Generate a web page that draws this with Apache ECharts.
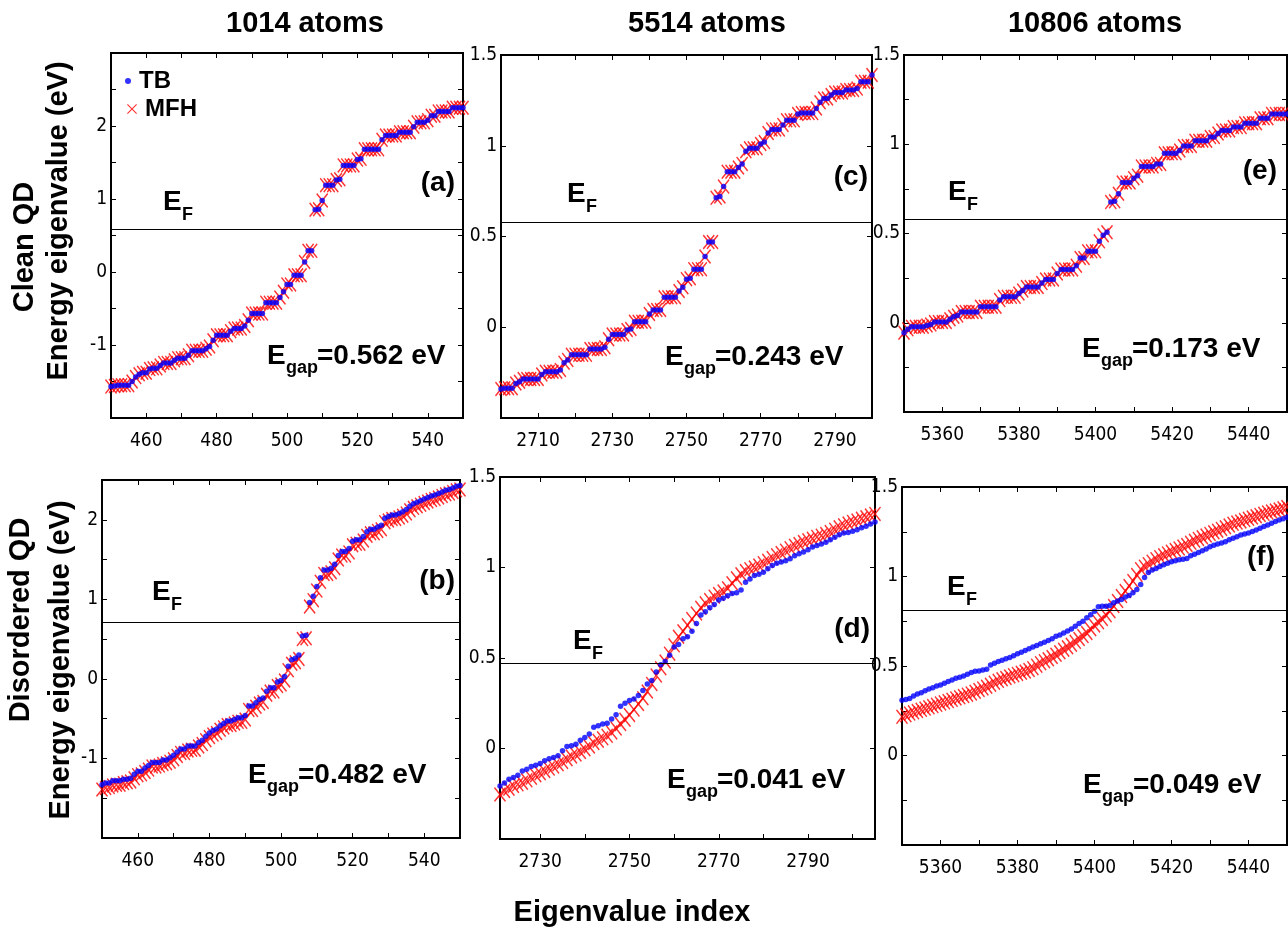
<!DOCTYPE html>
<html>
<head>
<meta charset="utf-8">
<script src="https://cdn.jsdelivr.net/npm/echarts@6/dist/echarts.min.js"></script>
<style>
html,body{margin:0;padding:0;background:#fff;}
#chart{width:1288px;height:928px;}
</style>
</head>
<body>
<div id="chart"></div>
<script>
// ---------- data ----------
const columnTitles = ['1014 atoms', '5514 atoms', '10806 atoms'];
const panelLetters = ['(a)', '(b)', '(c)', '(d)', '(e)', '(f)'];
const gapTexts = ['=0.562 eV', '=0.482 eV', '=0.243 eV', '=0.041 eV', '=0.173 eV', '=0.049 eV'];

// (a) clean, 1014 atoms, index 450..550
const startA = 450;
const tbA = [-1.57,-1.56,-1.55,-1.55,-1.55,-1.55,-1.50,-1.44,-1.40,-1.38,
  -1.38,-1.33,-1.32,-1.32,-1.28,-1.245,-1.245,-1.245,-1.21,-1.18,
  -1.18,-1.18,-1.14,-1.08,-1.08,-1.08,-1.08,-1.05,-1.02,-0.935,
  -0.866,-0.866,-0.866,-0.866,-0.81,-0.775,-0.775,-0.775,-0.74,-0.66,
  -0.57,-0.57,-0.57,-0.57,-0.42,-0.42,-0.42,-0.42,-0.35,-0.27,
  -0.17,-0.17,-0.045,-0.045,-0.045,0.137,0.29,0.29,0.853,0.86,
  0.98,1.19,1.19,1.19,1.26,1.27,1.46,1.46,1.46,1.46,
  1.54,1.55,1.68,1.68,1.68,1.68,1.68,1.81,1.87,1.87,
  1.87,1.87,1.915,1.915,1.915,1.915,1.99,2.05,2.05,2.05,
  2.08,2.14,2.14,2.20,2.20,2.20,2.20,2.25,2.25,2.25,
  2.25];
const mfhA = [-1.57,-1.56,-1.55,-1.55,-1.55,-1.55,-1.50,-1.44,-1.40,-1.38,
  -1.38,-1.33,-1.32,-1.32,-1.28,-1.245,-1.245,-1.245,-1.21,-1.18,
  -1.18,-1.18,-1.14,-1.08,-1.08,-1.08,-1.08,-1.05,-1.02,-0.935,
  -0.866,-0.866,-0.866,-0.866,-0.81,-0.775,-0.775,-0.775,-0.74,-0.66,
  -0.57,-0.57,-0.57,-0.57,-0.42,-0.42,-0.42,-0.42,-0.35,-0.27,
  -0.17,-0.17,-0.045,-0.045,-0.045,0.137,0.29,0.29,0.853,0.86,
  0.98,1.19,1.19,1.19,1.26,1.27,1.46,1.46,1.46,1.46,
  1.54,1.55,1.68,1.68,1.68,1.68,1.68,1.81,1.87,1.87,
  1.87,1.87,1.915,1.915,1.915,1.915,1.99,2.05,2.05,2.05,
  2.08,2.14,2.14,2.20,2.20,2.20,2.20,2.25,2.25,2.25,
  2.25];
const efA = 0.58;

// (b) disordered, 1014 atoms, index 450..550
const startB = 450;
const tbB = [-1.33,-1.31,-1.31,-1.28,-1.28,-1.28,-1.26,-1.26,-1.25,-1.20,
  -1.16,-1.16,-1.12,-1.09,-1.05,-1.05,-1.05,-1.02,-1.02,-0.99,
  -0.96,-0.92,-0.88,-0.88,-0.845,-0.845,-0.845,-0.80,-0.77,-0.72,
  -0.68,-0.65,-0.63,-0.59,-0.56,-0.53,-0.53,-0.51,-0.49,-0.49,
  -0.46,-0.34,-0.34,-0.30,-0.26,-0.24,-0.155,-0.11,-0.11,-0.04,
  -0.02,0.03,0.16,0.24,0.26,0.30,0.54,0.55,0.96,1.04,
  1.16,1.27,1.37,1.37,1.39,1.44,1.55,1.60,1.60,1.64,
  1.73,1.75,1.75,1.79,1.85,1.88,1.88,1.91,1.93,2.02,
  2.04,2.06,2.06,2.08,2.10,2.13,2.17,2.20,2.22,2.24,
  2.26,2.28,2.30,2.31,2.33,2.35,2.37,2.38,2.40,2.42,
  2.43];
const mfhB = [-1.39,-1.37,-1.36,-1.34,-1.33,-1.33,-1.31,-1.30,-1.29,-1.25,
  -1.21,-1.20,-1.17,-1.14,-1.10,-1.10,-1.09,-1.07,-1.06,-1.04,
  -1.01,-0.97,-0.93,-0.93,-0.90,-0.89,-0.89,-0.85,-0.82,-0.77,
  -0.73,-0.70,-0.68,-0.64,-0.61,-0.58,-0.58,-0.56,-0.54,-0.54,
  -0.51,-0.39,-0.39,-0.35,-0.31,-0.29,-0.20,-0.16,-0.16,-0.09,
  -0.07,-0.02,0.11,0.19,0.21,0.25,0.50,0.51,0.91,0.99,
  1.11,1.22,1.32,1.32,1.34,1.39,1.50,1.55,1.55,1.59,
  1.68,1.70,1.70,1.74,1.80,1.83,1.83,1.86,1.88,1.97,
  1.99,2.01,2.01,2.03,2.05,2.08,2.12,2.15,2.17,2.19,
  2.21,2.23,2.25,2.26,2.28,2.30,2.32,2.33,2.35,2.37,
  2.38];
const efB = 0.715;

// (c) clean, 5514 atoms, index 2700..2800
const startC = 2700;
const tbC = [-0.34,-0.336,-0.336,-0.336,-0.31,-0.30,-0.285,-0.285,-0.285,-0.285,
  -0.285,-0.26,-0.245,-0.245,-0.245,-0.245,-0.235,-0.195,-0.18,-0.152,
  -0.152,-0.152,-0.152,-0.152,-0.12,-0.12,-0.12,-0.12,-0.11,-0.066,
  -0.04,-0.04,-0.04,-0.04,-0.015,-0.01,0.03,0.03,0.03,0.03,
  0.073,0.095,0.095,0.095,0.165,0.165,0.165,0.165,0.2,0.22,
  0.265,0.27,0.32,0.32,0.32,0.39,0.47,0.47,0.713,0.72,
  0.775,0.857,0.857,0.857,0.88,0.9,0.97,0.986,0.986,0.986,
  1.01,1.02,1.07,1.09,1.09,1.09,1.115,1.14,1.14,1.14,
  1.175,1.18,1.18,1.18,1.18,1.205,1.24,1.26,1.26,1.28,
  1.293,1.293,1.293,1.307,1.307,1.307,1.315,1.353,1.353,1.353,
  1.39];
const mfhC = [-0.34,-0.336,-0.336,-0.336,-0.31,-0.30,-0.285,-0.285,-0.285,-0.285,
  -0.285,-0.26,-0.245,-0.245,-0.245,-0.245,-0.235,-0.195,-0.18,-0.152,
  -0.152,-0.152,-0.152,-0.152,-0.12,-0.12,-0.12,-0.12,-0.11,-0.066,
  -0.04,-0.04,-0.04,-0.04,-0.015,-0.01,0.03,0.03,0.03,0.03,
  0.073,0.095,0.095,0.095,0.165,0.165,0.165,0.165,0.2,0.22,
  0.265,0.27,0.32,0.32,0.32,0.39,0.47,0.47,0.713,0.72,
  0.775,0.857,0.857,0.857,0.88,0.9,0.97,0.986,0.986,0.986,
  1.01,1.02,1.07,1.09,1.09,1.09,1.115,1.14,1.14,1.14,
  1.175,1.18,1.18,1.18,1.18,1.205,1.24,1.26,1.26,1.28,
  1.293,1.293,1.293,1.307,1.307,1.307,1.315,1.353,1.353,1.353,
  1.39];
const efC = 0.578;

// (d) disordered, 5514 atoms, index 2721..2805
const startD = 2721;
const tbD = [-0.207,-0.19,-0.17,-0.16,-0.148,-0.124,-0.115,-0.10,-0.093,-0.083,
  -0.068,-0.056,-0.05,-0.04,-0.013,0.011,0.015,0.024,0.046,0.061,
  0.08,0.117,0.126,0.135,0.14,0.163,0.187,0.233,0.25,0.265,
  0.274,0.293,0.32,0.357,0.376,0.422,0.463,0.48,0.515,0.561,
  0.574,0.607,0.617,0.648,0.69,0.737,0.756,0.778,0.796,0.82,
  0.83,0.844,0.856,0.861,0.876,0.918,0.937,0.956,0.963,0.974,
  0.993,1.011,1.024,1.03,1.037,1.048,1.065,1.076,1.085,1.098,
  1.113,1.122,1.13,1.139,1.154,1.167,1.181,1.19,1.194,1.2,
  1.209,1.219,1.228,1.24,1.252];
const mfhD = [-0.254,-0.235,-0.222,-0.207,-0.198,-0.189,-0.176,-0.161,-0.148,-0.137,
  -0.124,-0.111,-0.1,-0.087,-0.074,-0.059,-0.044,-0.033,-0.019,-0.004,
  0.011,0.03,0.043,0.056,0.07,0.089,0.111,0.135,0.159,0.185,
  0.215,0.246,0.278,0.315,0.357,0.404,0.444,0.481,0.524,0.57,
  0.617,0.648,0.681,0.715,0.746,0.778,0.802,0.82,0.839,0.854,
  0.867,0.885,0.913,0.941,0.963,0.981,0.991,1.0,1.011,1.024,
  1.037,1.052,1.067,1.08,1.093,1.107,1.12,1.13,1.141,1.15,
  1.159,1.169,1.176,1.185,1.196,1.209,1.222,1.233,1.243,1.252,
  1.259,1.269,1.278,1.287,1.296];
const efD = 0.468;

// (e) clean, 10806 atoms, index 5350..5450
const startE = 5350;
const tbE = [-0.056,-0.037,-0.022,-0.022,-0.022,-0.022,-0.015,-0.01,0.004,0.004,
  0.004,0.004,0.02,0.034,0.04,0.06,0.06,0.06,0.06,0.06,
  0.09,0.09,0.09,0.09,0.09,0.127,0.145,0.145,0.145,0.145,
  0.164,0.18,0.2,0.2,0.2,0.2,0.222,0.242,0.242,0.242,
  0.276,0.298,0.298,0.298,0.298,0.32,0.363,0.363,0.4,0.4,
  0.4,0.456,0.49,0.507,0.676,0.68,0.723,0.786,0.786,0.786,
  0.81,0.824,0.876,0.876,0.876,0.876,0.89,0.89,0.95,0.95,
  0.95,0.95,0.965,0.99,0.99,0.99,1.02,1.02,1.02,1.02,
  1.04,1.04,1.06,1.077,1.077,1.077,1.096,1.096,1.096,1.118,
  1.118,1.118,1.118,1.146,1.146,1.146,1.17,1.17,1.17,1.17,
  1.17];
const mfhE = [-0.056,-0.037,-0.022,-0.022,-0.022,-0.022,-0.015,-0.01,0.004,0.004,
  0.004,0.004,0.02,0.034,0.04,0.06,0.06,0.06,0.06,0.06,
  0.09,0.09,0.09,0.09,0.09,0.127,0.145,0.145,0.145,0.145,
  0.164,0.18,0.2,0.2,0.2,0.2,0.222,0.242,0.242,0.242,
  0.276,0.298,0.298,0.298,0.298,0.32,0.363,0.363,0.4,0.4,
  0.4,0.456,0.49,0.507,0.676,0.68,0.723,0.786,0.786,0.786,
  0.81,0.824,0.876,0.876,0.876,0.876,0.89,0.89,0.95,0.95,
  0.95,0.95,0.965,0.99,0.99,0.99,1.02,1.02,1.02,1.02,
  1.04,1.04,1.06,1.077,1.077,1.077,1.096,1.096,1.096,1.118,
  1.118,1.118,1.118,1.146,1.146,1.146,1.17,1.17,1.17,1.17,
  1.17];
const efE = 0.581;

// (f) disordered, 10806 atoms, index 5350..5450
const startF = 5350;
const tbF = [0.309,0.313,0.319,0.332,0.343,0.35,0.362,0.371,0.379,0.388,
  0.394,0.403,0.413,0.422,0.431,0.437,0.444,0.454,0.463,0.471,
  0.472,0.478,0.482,0.506,0.516,0.525,0.532,0.54,0.548,0.557,
  0.568,0.577,0.587,0.596,0.606,0.615,0.624,0.632,0.643,0.652,
  0.666,0.673,0.684,0.696,0.707,0.722,0.737,0.75,0.769,0.787,
  0.806,0.831,0.834,0.834,0.838,0.853,0.863,0.872,0.885,0.894,
  0.909,0.928,0.956,0.994,1.022,1.037,1.045,1.056,1.065,1.074,
  1.082,1.088,1.093,1.097,1.101,1.116,1.125,1.134,1.144,1.153,
  1.166,1.175,1.181,1.187,1.194,1.205,1.213,1.222,1.232,1.237,
  1.243,1.251,1.26,1.269,1.279,1.288,1.298,1.307,1.316,1.322,
  1.331];
const mfhF = [0.216,0.225,0.234,0.241,0.249,0.255,0.262,0.269,0.276,0.283,
  0.291,0.297,0.304,0.311,0.319,0.325,0.332,0.34,0.347,0.356,
  0.366,0.375,0.384,0.395,0.407,0.417,0.426,0.433,0.441,0.449,
  0.456,0.462,0.469,0.478,0.488,0.502,0.516,0.527,0.538,0.55,
  0.563,0.577,0.591,0.605,0.619,0.635,0.651,0.667,0.684,0.705,
  0.726,0.745,0.763,0.784,0.806,0.835,0.863,0.891,0.919,0.947,
  0.975,1.008,1.041,1.055,1.069,1.083,1.097,1.108,1.119,1.129,
  1.138,1.148,1.157,1.167,1.176,1.188,1.2,1.21,1.219,1.229,
  1.238,1.247,1.256,1.266,1.275,1.285,1.294,1.301,1.307,1.315,
  1.322,1.33,1.337,1.344,1.35,1.357,1.363,1.369,1.374,1.381,
  1.388];
const efF = 0.806;

// axis ranges, ticks and tick labels
const xRangeAB = [450, 550];
const xTicksAB = [460, 470, 480, 490, 500, 510, 520, 530, 540];
const xLabelsAB = [460, 480, 500, 520, 540];
const xRangeC = [2700, 2800];
const xTicksC = [2710, 2720, 2730, 2740, 2750, 2760, 2770, 2780, 2790];
const xLabelsC = [2710, 2730, 2750, 2770, 2790];
const xRangeD = [2721, 2805];
const xTicksD = [2730, 2740, 2750, 2760, 2770, 2780, 2790, 2800];
const xLabelsD = [2730, 2750, 2770, 2790];
const xRangeEF = [5350, 5450];
const xTicksEF = [5360, 5370, 5380, 5390, 5400, 5410, 5420, 5430, 5440];
const xLabelsEF = [5360, 5380, 5400, 5420, 5440];

const yRangeA = [-2, 3];
const yTicksA = [-1.5, -1, -0.5, 0, 0.5, 1, 1.5, 2, 2.5];
const yRangeB = [-2, 2.5];
const yTicksB = [-1.5, -1, -0.5, 0, 0.5, 1, 1.5, 2];
const yLabelsAB = [-1, 0, 1, 2];
const yRangeCD = [-0.5, 1.5];
const yTicksCD = [0, 0.5, 1];
const yTicksEF = [-0.25, 0, 0.25, 0.5, 0.75, 1, 1.25];
const yLabelsCDEF = [0, 0.5, 1, 1.5];

// ---------- layout / styling ----------
const TB_COLOR = '#0000ff';
const MFH_COLOR = '#ff0000';
const X_SYMBOL = 'path://M0.8,0L5,4.2L9.2,0L10,0.8L5.8,5L10,9.2L9.2,10L5,5.8L0.8,10L0,9.2L4.2,5L0,0.8Z';
const TICK_FONT = '"Liberation Sans Narrow", "DejaVu Sans Condensed", "Liberation Sans", sans-serif';
const BOLD_FONT = '"Liberation Sans", Arial, Helvetica, sans-serif';

function pts(start, vals) { return vals.map((v, k) => [start + k, v]); }
function plain(v) { return String(v); }

const panels = [
  { grid: {left:111, top:53, width:352, height:365}, xr: xRangeAB, xt: xTicksAB, xl: xLabelsAB,
    yr: yRangeA, yt: yTicksA, yl: yLabelsAB, tb: pts(startA, tbA), mfh: pts(startA, mfhA), ef: efA },
  { grid: {left:102, top:480, width:358, height:358}, xr: xRangeAB, xt: xTicksAB, xl: xLabelsAB,
    yr: yRangeB, yt: yTicksB, yl: yLabelsAB, tb: pts(startB, tbB), mfh: pts(startB, mfhB), ef: efB },
  { grid: {left:501, top:55, width:371, height:363}, xr: xRangeC, xt: xTicksC, xl: xLabelsC,
    yr: yRangeCD, yt: yTicksCD, yl: yLabelsCDEF, tb: pts(startC, tbC), mfh: pts(startC, mfhC), ef: efC },
  { grid: {left:500, top:477, width:375, height:362}, xr: xRangeD, xt: xTicksD, xl: xLabelsD,
    yr: yRangeCD, yt: yTicksCD, yl: yLabelsCDEF, tb: pts(startD, tbD), mfh: pts(startD, mfhD), ef: efD },
  { grid: {left:904, top:55, width:383, height:357}, xr: xRangeEF, xt: xTicksEF, xl: xLabelsEF,
    yr: yRangeCD, yt: yTicksEF, yl: yLabelsCDEF, tb: pts(startE, tbE), mfh: pts(startE, mfhE), ef: efE },
  { grid: {left:902, top:487, width:385, height:358}, xr: xRangeEF, xt: xTicksEF, xl: xLabelsEF,
    yr: yRangeCD, yt: yTicksEF, yl: yLabelsCDEF, tb: pts(startF, tbF), mfh: pts(startF, mfhF), ef: efF }
];

const grids = [], xAxes = [], yAxes = [], series = [];
panels.forEach((p, i) => {
  grids.push(Object.assign({ show: true, borderColor: '#000', borderWidth: 2, backgroundColor: 'transparent' }, p.grid));
  const tick = { show: true, inside: true, length: 5, lineStyle: { color: '#000', width: 1 } };
  const lab = { color: '#000', fontFamily: TICK_FONT, fontSize: 19, formatter: plain };
  const noLine = { show: false, onZero: false };
  xAxes.push({ type: 'value', gridIndex: i, position: 'bottom', min: p.xr[0], max: p.xr[1],
    axisLine: noLine, splitLine: { show: false },
    axisTick: Object.assign({ customValues: p.xt }, tick),
    axisLabel: Object.assign({ customValues: p.xl, margin: 14 }, lab) });
  xAxes.push({ type: 'value', gridIndex: i, position: 'top', min: p.xr[0], max: p.xr[1],
    axisLine: noLine, splitLine: { show: false },
    axisTick: Object.assign({ customValues: p.xt }, tick),
    axisLabel: { show: false } });
  yAxes.push({ type: 'value', gridIndex: i, position: 'left', min: p.yr[0], max: p.yr[1],
    axisLine: noLine, splitLine: { show: false },
    axisTick: Object.assign({ customValues: p.yt }, tick),
    axisLabel: Object.assign({ customValues: p.yl, margin: 4 }, lab) });
  yAxes.push({ type: 'value', gridIndex: i, position: 'right', min: p.yr[0], max: p.yr[1],
    axisLine: noLine, splitLine: { show: false },
    axisTick: Object.assign({ customValues: p.yt }, tick),
    axisLabel: { show: false } });
  series.push({ name: 'MFH', type: 'scatter', xAxisIndex: 2 * i, yAxisIndex: 2 * i,
    data: p.mfh, symbol: X_SYMBOL, symbolSize: [12, 15], clip: false,
    itemStyle: { color: MFH_COLOR }, z: 2, silent: true });
  series.push({ name: 'TB', type: 'scatter', xAxisIndex: 2 * i, yAxisIndex: 2 * i,
    data: p.tb, symbol: 'circle', symbolSize: 5.5, clip: false,
    itemStyle: { color: TB_COLOR }, z: 3, silent: true,
    markLine: { silent: true, symbol: ['none', 'none'], label: { show: false },
      lineStyle: { color: '#000', width: 1, type: 'solid' },
      data: [{ yAxis: p.ef }] } });
});

function txt(text, x, y, size, align, extra) {
  const font = 'bold ' + size + 'px ' + BOLD_FONT;
  return Object.assign({
    type: 'text', x: x, y: y, silent: true,
    style: { text: text, x: 0, y: 0, font: font, fill: '#000',
      align: align, verticalAlign: 'middle', textAlign: align, textVerticalAlign: 'middle' }
  }, extra || {});
}

const graphics = [];
// column titles
graphics.push(txt(columnTitles[0], 305, 24, 29, 'center'));
graphics.push(txt(columnTitles[1], 707, 24, 29, 'center'));
graphics.push(txt(columnTitles[2], 1095, 24, 29, 'center'));
// row titles
graphics.push(txt('Clean QD', 25, 247, 29, 'center', { rotation: Math.PI / 2 }));
graphics.push(txt('Energy eigenvalue (eV)', 59, 221, 29, 'center', { rotation: Math.PI / 2 }));
graphics.push(txt('Disordered QD', 21, 620, 29, 'center', { rotation: Math.PI / 2 }));
graphics.push(txt('Energy eigenvalue (eV)', 61, 660, 29, 'center', { rotation: Math.PI / 2 }));
graphics.push(txt('Eigenvalue index', 632, 913, 29, 'center'));

// E_F labels [x of E, y center]
const efPos = [[163, 202], [152, 592], [567, 194], [573, 641], [948, 192], [947, 587]];
efPos.forEach(([x, y]) => {
  graphics.push(txt('E', x, y, 28, 'left'));
  graphics.push(txt('F', x + 19, y + 13, 18, 'left'));
});
// panel letters [right x, y center]
const letterPos = [[455, 183], [455, 581], [868, 177], [870, 629], [1277, 171], [1275, 557]];
letterPos.forEach(([x, y], i) => graphics.push(txt(panelLetters[i], x, y, 28, 'right')));
// E_gap labels [x of E, y center]
const gapPos = [[267, 356], [248, 775], [665, 357], [667, 780], [1082, 349], [1083, 785]];
gapPos.forEach(([x, y], i) => {
  graphics.push(txt('E', x, y, 28, 'left'));
  graphics.push(txt('gap', x + 19, y + 12, 18, 'left'));
  graphics.push(txt(gapTexts[i], x + 50, y, 28, 'left'));
});

const chart = echarts.init(document.getElementById('chart'), null, { renderer: 'canvas' });
chart.setOption({
  backgroundColor: '#fff',
  animation: false,
  legend: [
    { data: ['TB'], left: 125, top: 69, orient: 'vertical', padding: 0, itemWidth: 6, itemHeight: 6,
      selectedMode: false,
      textStyle: { fontSize: 24, fontWeight: 'bold', fontFamily: BOLD_FONT, color: '#000', padding: [0, 0, 0, 3] } },
    { data: ['MFH'], left: 127, top: 97, orient: 'vertical', padding: 0, itemWidth: 10, itemHeight: 10,
      selectedMode: false,
      textStyle: { fontSize: 24, fontWeight: 'bold', fontFamily: BOLD_FONT, color: '#000', padding: [0, 0, 0, 3] } }
  ],
  grid: grids,
  xAxis: xAxes,
  yAxis: yAxes,
  series: series,
  graphic: { elements: graphics }
});
</script>
</body>
</html>
